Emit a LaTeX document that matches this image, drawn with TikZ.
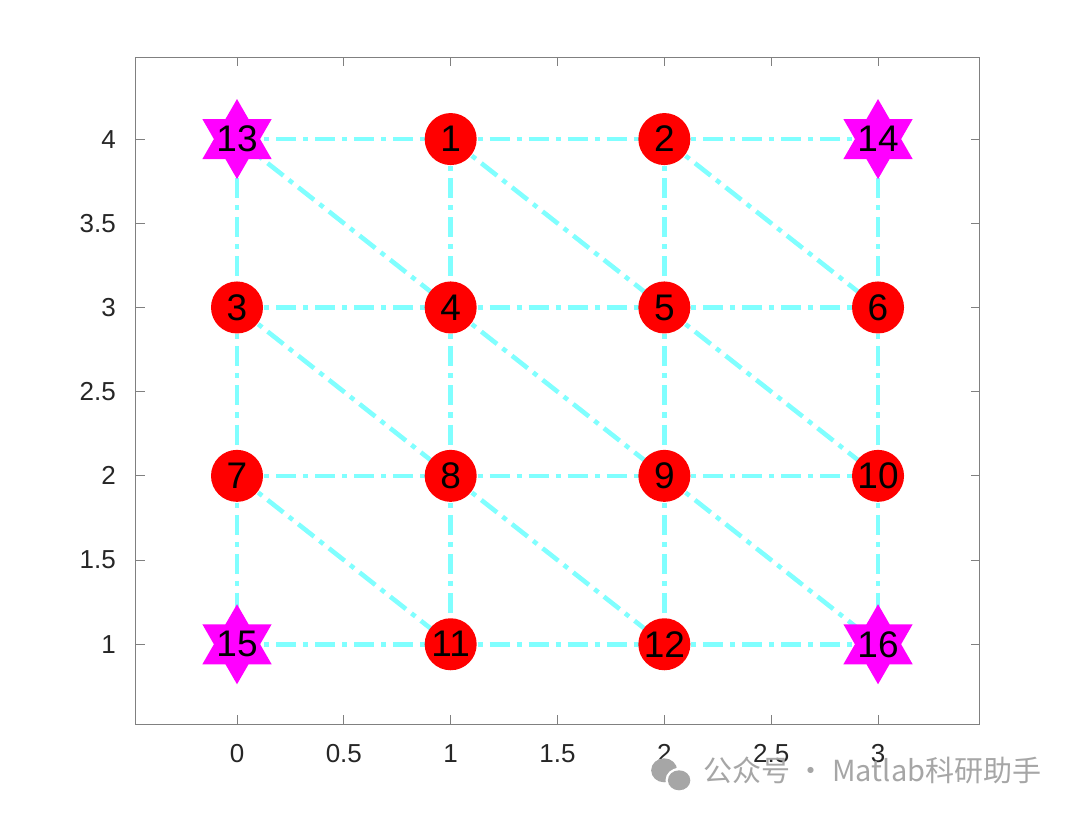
\documentclass[tikz,border=0pt]{standalone}
\usepackage{fontspec}
\setmainfont{Liberation Sans}
\newfontfamily\cjkfont{Noto Sans CJK SC}
\usetikzlibrary{shapes.geometric,backgrounds}
\definecolor{edgecyan}{rgb}{0.5,1,1}
\definecolor{hubmagenta}{rgb}{1,0,1}
\definecolor{axisgray}{gray}{0.5}
\definecolor{ticktext}{gray}{0.15}
\definecolor{markgray}{gray}{0.65}
\tikzset{
	vert/.style={circle,fill=red,minimum size=26pt,inner sep=0pt,font=\fontsize{18.5}{20}\selectfont},
	hub/.style={star,star points=6,star point ratio=1.732,fill=hubmagenta,minimum size=40pt,inner sep=0pt},
	hublab/.style={font=\fontsize{18.5}{20}\selectfont,inner sep=0pt},
	link/.style={edgecyan,line width=2.3pt,dash pattern=on 10pt off 3.5pt on 2.5pt off 3.5pt},
	ticklab/.style={ticktext,font=\fontsize{13}{15}\selectfont}
}

\begin{document}
\begin{tikzpicture}[x=106.8pt,y=84.17pt]
	\useasboundingbox (-1.1092,-0.004) rectangle (3.9453,4.8258);
	
	%axes box
	\draw[axisgray,line width=0.5pt] (-0.473,0.525) rectangle (3.477,4.487);
	
	%ticks
	\foreach \t in {0,0.5,...,3} {
		\draw[axisgray,line width=0.5pt] (\t,0.525) -- ++(0,4.5pt);
		\draw[axisgray,line width=0.5pt] (\t,4.487) -- ++(0,-4.5pt);
		\node[ticklab,yshift=-14.5pt] at (\t,0.525) {\pgfmathprint{\t}};
	}
	\foreach \t/\lab in {1/1,1.5/1.5,2/2,2.5/2.5,3/3,3.5/3.5,4/4} {
		\draw[axisgray,line width=0.5pt] (-0.473,\t) -- ++(4.5pt,0);
		\draw[axisgray,line width=0.5pt] (3.477,\t) -- ++(-4.5pt,0);
		\node[ticklab,anchor=east,xshift=-6.5pt] at (-0.473,\t) {\lab};
	}
	
	%vertices
	\foreach \n/\x/\y in {1/1/4,2/2/4,3/0/3,4/1/3,5/2/3,6/3/3,7/0/2,8/1/2,9/2/2,10/3/2,11/1/1,12/2/1}
		\node[vert] (\n) at (\x,\y) {\n};
	\foreach \n/\x/\y in {13/0/4,14/3/4,15/0/1,16/3/1}
		\node[hub,label={[hublab]center:\n}] (\n) at (\x,\y) {};
	
	%edges
	\begin{scope}[on background layer]
		\foreach \a/\b in {13/1,1/2,2/14,3/4,4/5,5/6,7/8,8/9,9/10,15/11,11/12,12/16,
			13/3,3/7,7/15,1/4,4/8,8/11,2/5,5/9,9/12,14/6,6/10,10/16,
			13/4,1/5,2/6,3/8,4/9,5/10,7/11,8/12,9/16}
			\draw[link] (\a.center) -- (\b.center);
	\end{scope}
	
	%watermark
	\fill[markgray] (1.999,0.2515) ellipse (6.5pt and 6pt);
	\fill[white] (2.069,0.1921) ellipse (6.8pt and 6.2pt);
	\fill[markgray] (2.069,0.1921) ellipse (5.6pt and 5pt);
	\node[markgray,anchor=west,font=\cjkfont\fontsize{14.5}{16}\selectfont,inner sep=0pt] (wm) at (2.181,0.2515) {公众号 · Matlab科研助手};
\end{tikzpicture}
\end{document}
